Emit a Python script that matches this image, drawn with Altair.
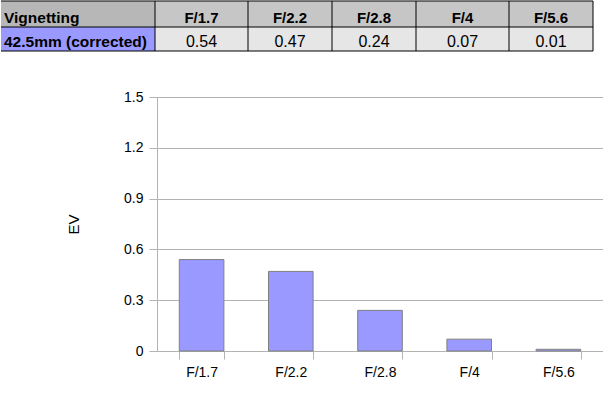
import altair as alt
import pandas as pd

# ---- data ----
apertures = ["F/1.7", "F/2.2", "F/2.8", "F/4", "F/5.6"]
ev_values = [0.54, 0.47, 0.24, 0.07, 0.01]
table_corner = "Vignetting"
series_name = "42.5mm (corrected)"
y_ticks = [0, 0.3, 0.6, 0.9, 1.2, 1.5]

# ---- layout / style ----
COL_EDGES = [0, 154, 247, 331, 415, 508, 592]
ROW_EDGES = [0, 26, 50]
FONT = "Liberation Sans"
FILLS = {("h", True): "#b7b7b7", ("h", False): "#c6c6c6",
         ("d", True): "#9999ff", ("d", False): "#e6e6e6"}

header_texts = [table_corner] + apertures
data_texts = [series_name] + [f"{v:.2f}" for v in ev_values]

rows = []
for r, (kind, texts) in enumerate([("h", header_texts), ("d", data_texts)]):
    for c in range(len(texts)):
        rows.append(dict(x0=COL_EDGES[c], x1=COL_EDGES[c + 1],
                         y0=ROW_EDGES[r], y1=ROW_EDGES[r + 1],
                         text=texts[c], kind=kind, first=(c == 0),
                         fill=FILLS[(kind, c == 0)]))
cells = pd.DataFrame(rows)

vlines = pd.DataFrame({"x": COL_EDGES[1:], "y0": ROW_EDGES[0], "y1": ROW_EDGES[-1]})
hlines = pd.DataFrame({"y": ROW_EDGES, "x0": COL_EDGES[0], "x1": COL_EDGES[-1]})

xs = alt.Scale(domain=[COL_EDGES[0], COL_EDGES[-1]], nice=False, zero=False)
ys = alt.Scale(domain=[ROW_EDGES[0], ROW_EDGES[-1]], nice=False, zero=False, reverse=True)

cell_rects = alt.Chart(cells).mark_rect(strokeWidth=0).encode(
    x=alt.X("x0:Q", scale=xs, axis=None), x2="x1:Q",
    y=alt.Y("y0:Q", scale=ys, axis=None), y2="y1:Q",
    fill=alt.Fill("fill:N", scale=None),
)

base_text = alt.Chart(cells).encode(
    y=alt.Y("y1:Q", scale=ys, axis=None),
    text="text:N",
)
first_col_text = base_text.transform_filter("datum.first").transform_calculate(
    xt="datum.x0"
).mark_text(align="left", baseline="alphabetic", dx=3, dy=-4, fontSize=15.5,
            fontWeight="bold", font=FONT, color="#000000").encode(
    x=alt.X("xt:Q", scale=xs, axis=None))
head_text = base_text.transform_filter("!datum.first && datum.kind == 'h'").transform_calculate(
    xt="(datum.x0 + datum.x1) / 2"
).mark_text(align="center", baseline="alphabetic", dy=-4, fontSize=15,
            fontWeight="bold", font=FONT, color="#000000").encode(
    x=alt.X("xt:Q", scale=xs, axis=None))
val_text = base_text.transform_filter("!datum.first && datum.kind == 'd'").transform_calculate(
    xt="(datum.x0 + datum.x1) / 2"
).mark_text(align="center", baseline="alphabetic", dy=-4, fontSize=16,
            font=FONT, color="#000000").encode(
    x=alt.X("xt:Q", scale=xs, axis=None))

vrules = alt.Chart(vlines).mark_rule(color="#000000", strokeWidth=1).encode(
    x=alt.X("x:Q", scale=xs, axis=None),
    y=alt.Y("y0:Q", scale=ys, axis=None), y2="y1:Q")
hrules = alt.Chart(hlines).mark_rule(color="#000000", strokeWidth=1).encode(
    y=alt.Y("y:Q", scale=ys, axis=None),
    x=alt.X("x0:Q", scale=xs, axis=None), x2="x1:Q")

table = alt.layer(cell_rects, vrules, hrules, first_col_text, head_text, val_text).properties(
    width=COL_EDGES[-1], height=ROW_EDGES[-1])

# ---- bar chart ----
bar_df = pd.DataFrame({"aperture": apertures, "ev": ev_values})
bars = alt.Chart(bar_df).mark_bar(fill="#9999ff", stroke="#808080", strokeWidth=1).encode(
    x=alt.X("aperture:N", sort=apertures, title=None,
            scale=alt.Scale(paddingInner=0.5, paddingOuter=0.25),
            axis=alt.Axis(labelAngle=0, tickBand="extent", tickSize=8, tickColor="#b3b3b3",
                          domainColor="#b3b3b3", labelPadding=6, labelFontSize=14,
                          labelColor="#000000", labelFont=FONT, grid=False)),
    y=alt.Y("ev:Q", title="EV", scale=alt.Scale(domain=[0, 1.5], nice=False),
            axis=alt.Axis(values=y_ticks, format=".1~f", tickSize=8, tickColor="#b3b3b3",
                          domainColor="#b3b3b3", gridColor="#b3b3b3", labelPadding=6,
                          labelFontSize=14, labelColor="#000000", labelFont=FONT,
                          titleFont=FONT, titleFontSize=15, titleFontWeight="normal",
                          titleColor="#000000", titlePadding=42)),
).properties(width=446, height=254)

spacer = alt.Chart(pd.DataFrame({"v": []})).mark_point().encode(
    x=alt.value(0)).properties(width=65, height=10)

chart = alt.vconcat(
    table,
    alt.hconcat(spacer, bars, spacing=0),
    spacing=38,
).properties(padding=0).configure_view(stroke=None)

chart.save("out.html", embed_options={"renderer": "svg", "actions": False})
